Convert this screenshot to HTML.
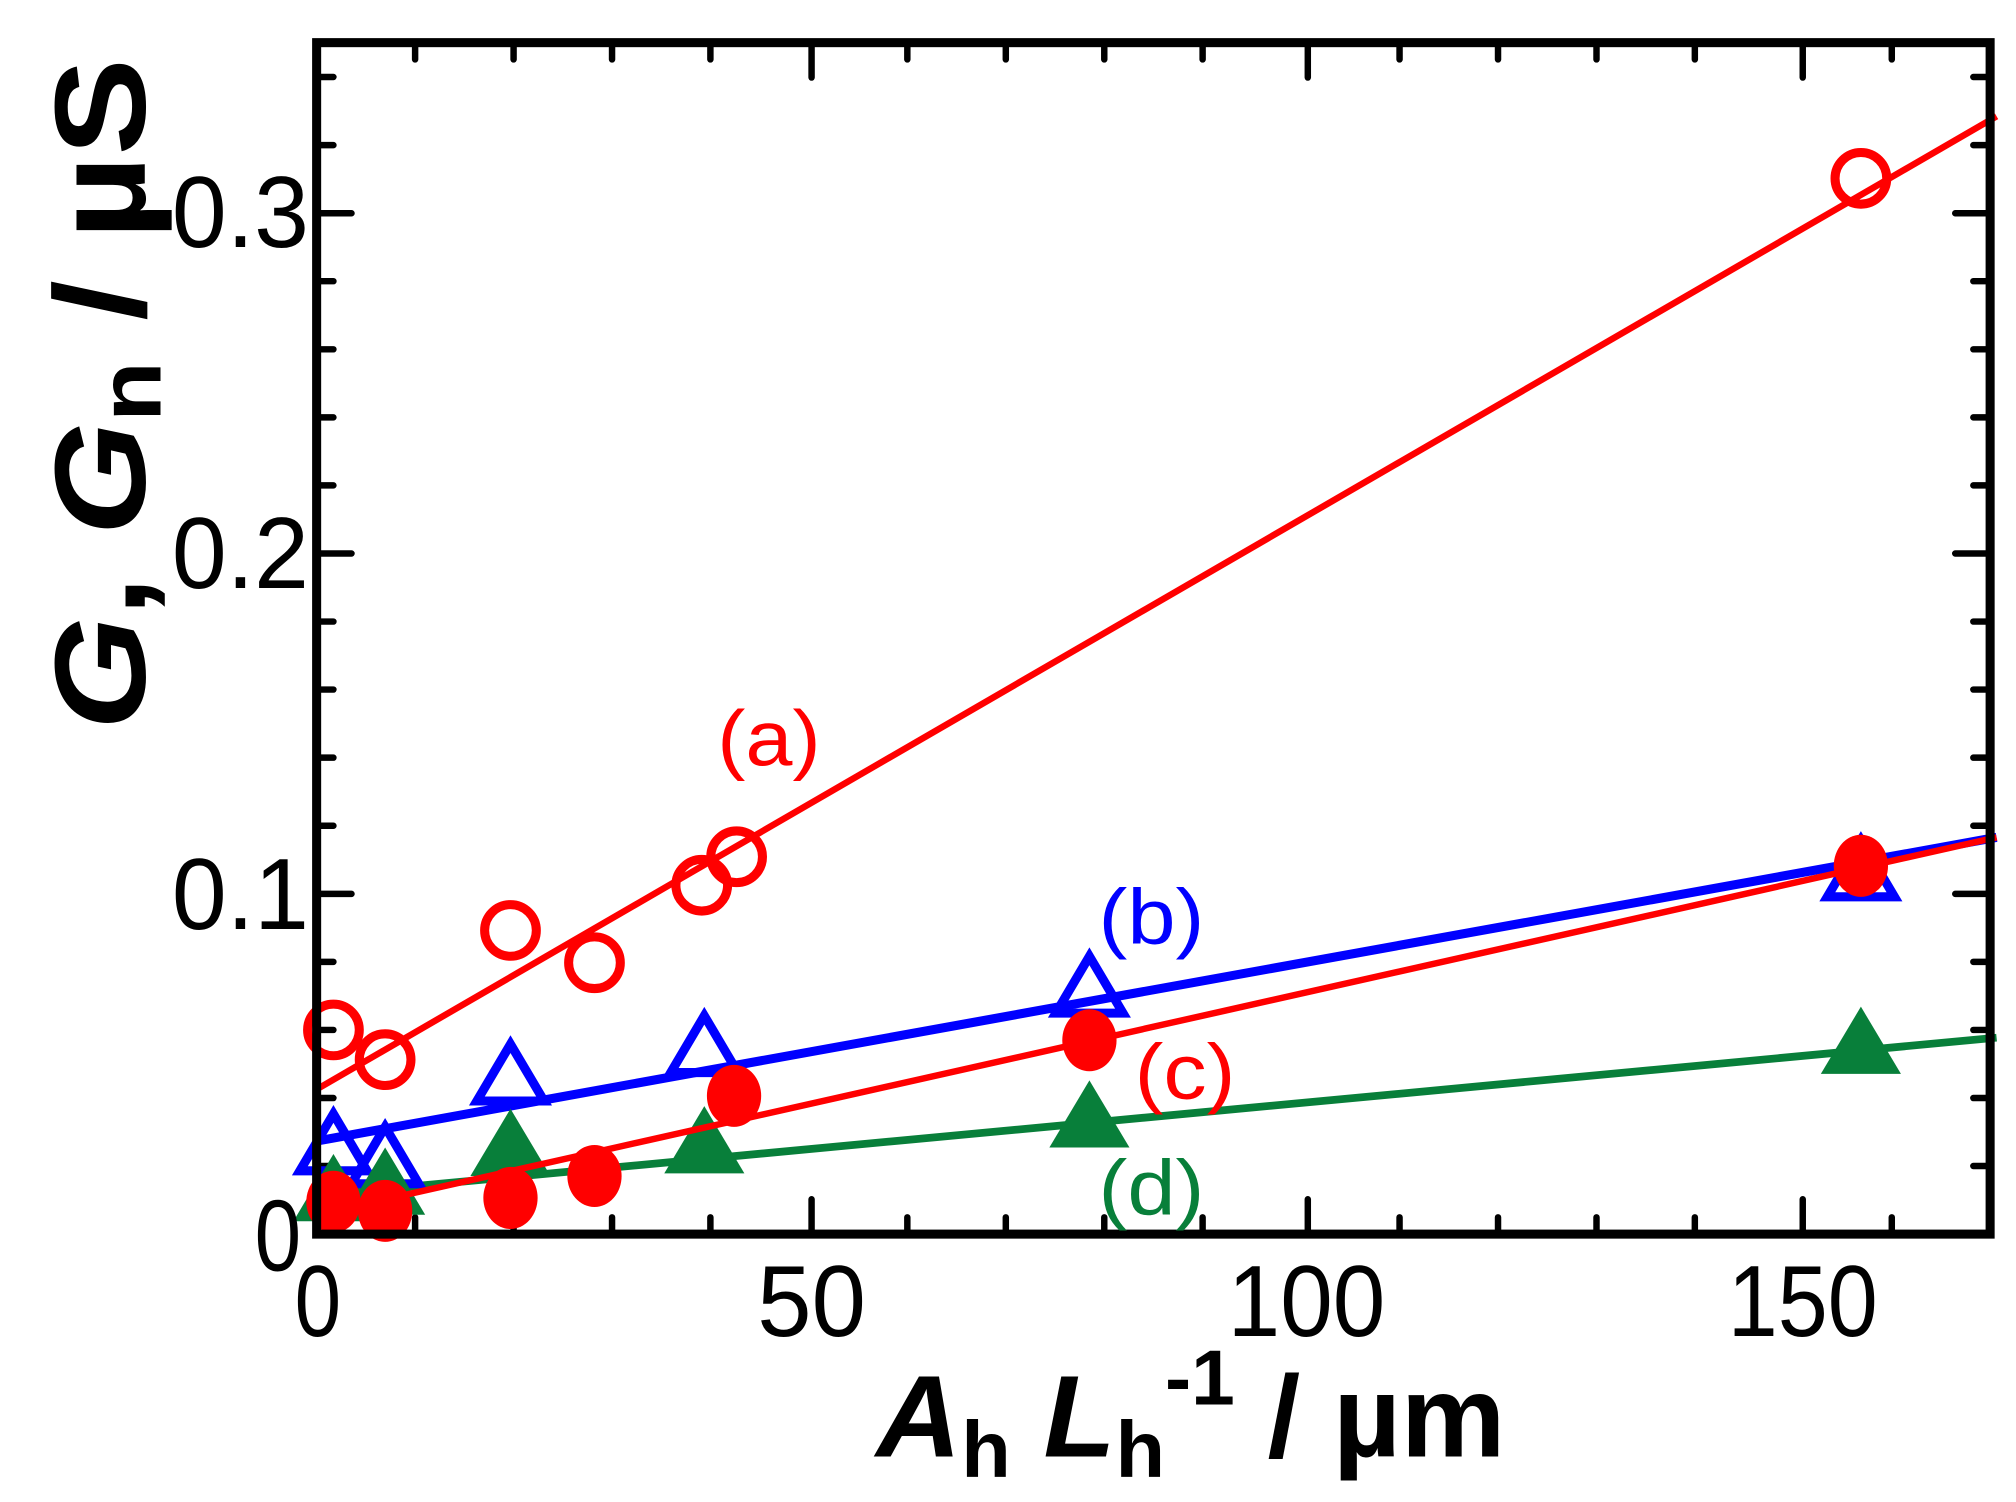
<!DOCTYPE html>
<html><head><meta charset="utf-8"><style>html,body{margin:0;padding:0;background:#fff}svg{display:block}</style></head>
<body>
<svg width="2016" height="1502" viewBox="0 0 1560 1162.3" xmlns="http://www.w3.org/2000/svg" font-family="Liberation Sans, sans-serif">
<rect width="1560" height="1162.3" fill="#fff"/>
<g stroke="#000" stroke-width="5" stroke-linecap="round">
<path d="M321.2 955v-13M397.4 955v-13M473.6 955v-13M549.7 955v-13M702.1 955v-13M778.3 955v-13M854.5 955v-13M930.6 955v-13M1083 955v-13M1159.2 955v-13M1235.4 955v-13M1311.5 955v-13M1463.9 955v-13
M628 955v-27M1012 955v-27M1395 955v-27
M321.2 33v13M397.4 33v13M473.6 33v13M549.7 33v13M702.1 33v13M778.3 33v13M854.5 33v13M930.6 33v13M1083 33v13M1159.2 33v13M1235.4 33v13M1311.5 33v13M1463.9 33v13
M628 33v27M1012 33v27M1395 33v27"/>
<path d="M245 902.3h13M245 849.7h13M245 797h13M245 744.3h13M245 639h13M245 586.3h13M245 533.6h13M245 481h13M245 375.6h13M245 323h13M245 270.3h13M245 217.6h13M245 112.3h13M245 59.6h13
M245 691.7h27M245 428.3h27M245 165h27
M1540 902.3h-13M1540 849.7h-13M1540 797h-13M1540 744.3h-13M1540 639h-13M1540 586.3h-13M1540 533.6h-13M1540 481h-13M1540 375.6h-13M1540 323h-13M1540 270.3h-13M1540 217.6h-13M1540 112.3h-13M1540 59.6h-13
M1540 691.7h-27M1540 428.3h-27M1540 165h-27"/>
</g>
<g fill="none">
<line x1="245" y1="843" x2="1545" y2="90" stroke="#ff0000" stroke-width="5"/>
<line x1="245" y1="883" x2="1545" y2="648" stroke="#0000ff" stroke-width="7"/>
<line x1="245" y1="925" x2="1545" y2="803" stroke="#087f3a" stroke-width="6"/>
</g>
<g fill="none" stroke="#ff0000" stroke-width="7">
<circle cx="258" cy="797" r="20"/><circle cx="298" cy="820" r="20"/><circle cx="395" cy="720" r="20"/><circle cx="460" cy="745" r="20"/><circle cx="543" cy="685" r="20"/><circle cx="570" cy="663" r="20"/><circle cx="1440" cy="138" r="20"/>
</g>
<g fill="none" stroke="#0000ff" stroke-width="7">
<path d="M258 862l-26 44h52z"/><path d="M298 872l-26 44h52z"/><path d="M395 808l-26 44h52z"/><path d="M545 786l-26 44h52z"/><path d="M843 740l-26 44h52z"/><path d="M1440 650l-26 44h52z"/>
</g>
<g fill="#087f3a">
<path d="M258 893l-31 52h62z"/><path d="M298 888l-31 52h62z"/><path d="M395 858l-31 52h62z"/><path d="M545 856l-31 52h62z"/><path d="M843 836l-31 52h62z"/><path d="M1440 779l-31 52h62z"/>
</g>
<line x1="245" y1="940" x2="1545" y2="648" stroke="#ff0000" stroke-width="5"/>
<g fill="#ff0000">
<ellipse cx="258" cy="930" rx="21" ry="24"/><ellipse cx="298" cy="937" rx="21" ry="24"/><ellipse cx="395" cy="927" rx="21" ry="24"/><ellipse cx="460" cy="910" rx="21" ry="24"/><ellipse cx="568" cy="848" rx="21" ry="24"/><ellipse cx="843" cy="805" rx="21" ry="24"/><ellipse cx="1440" cy="670" rx="21" ry="24"/>
</g>
<rect x="245" y="33" width="1295" height="922" fill="none" stroke="#000" stroke-width="7"/>
<g font-size="60">
<text x="555" y="592" textLength="80" lengthAdjust="spacingAndGlyphs" fill="#ff0000">(a)</text>
<text x="850" y="730" textLength="82" lengthAdjust="spacingAndGlyphs" fill="#0000ff">(b)</text>
<text x="878" y="850" textLength="78" lengthAdjust="spacingAndGlyphs" fill="#ff0000">(c)</text>
<text x="850" y="940" textLength="82" lengthAdjust="spacingAndGlyphs" fill="#087f3a">(d)</text>
</g>
<g font-size="78" fill="#000">
<text x="228" y="1034" textLength="36" lengthAdjust="spacingAndGlyphs">0</text>
<text x="586" y="1034" textLength="84" lengthAdjust="spacingAndGlyphs">50</text>
<text x="950" y="1034" textLength="122" lengthAdjust="spacingAndGlyphs">100</text>
<text x="1337" y="1034" textLength="116" lengthAdjust="spacingAndGlyphs">150</text>
<text x="197" y="983" textLength="36" lengthAdjust="spacingAndGlyphs">0</text>
<text x="133" y="719" textLength="106" lengthAdjust="spacingAndGlyphs">0.1</text>
<text x="133" y="455" textLength="106" lengthAdjust="spacingAndGlyphs">0.2</text>
<text x="133" y="191" textLength="106" lengthAdjust="spacingAndGlyphs">0.3</text>
</g>
<text x="678" y="1127" font-size="90" font-weight="bold" textLength="487" lengthAdjust="spacingAndGlyphs"><tspan font-style="italic">A</tspan><tspan font-size="62" dy="16">h</tspan><tspan dy="-16"> </tspan><tspan font-style="italic">L</tspan><tspan font-size="62" dy="16">h</tspan><tspan font-size="60" dy="-56">-1</tspan><tspan dy="40"> / µm</tspan></text>
<text transform="translate(112,565) rotate(-90)" font-size="100" font-weight="bold" textLength="520" lengthAdjust="spacingAndGlyphs"><tspan font-style="italic">G</tspan><tspan>, </tspan><tspan font-style="italic">G</tspan><tspan font-size="68" dy="12">n</tspan><tspan dy="-12"> / µS</tspan></text>
</svg>
</body></html>
